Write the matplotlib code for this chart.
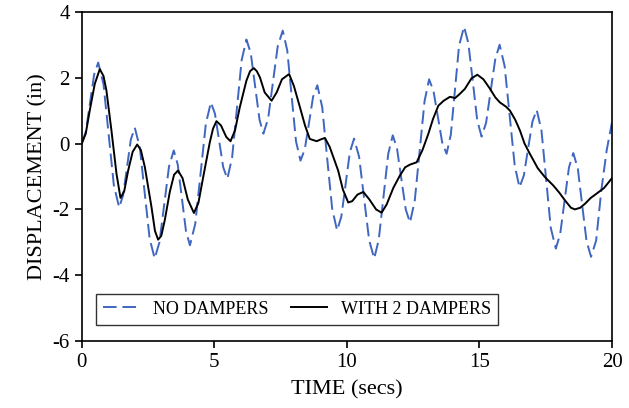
import matplotlib
matplotlib.use("Agg")
from matplotlib import pyplot as plt

# NO DAMPERS (dashed blue)
t_none = [0.0, 0.155, 0.31, 0.465, 0.62, 0.82, 1.015, 1.21, 1.41, 1.56, 1.705, 1.85,
          2.0, 2.19, 2.375, 2.56, 2.75, 2.93, 3.11, 3.29, 3.47, 3.62, 3.775, 3.93,
          4.08, 4.28, 4.48, 4.68, 4.87, 5.025, 5.18, 5.335, 5.49, 5.67, 5.85, 6.03,
          6.21, 6.375, 6.54, 6.705, 6.85, 7.03, 7.21, 7.39, 7.58, 7.75, 7.915, 8.08,
          8.25, 8.41, 8.57, 8.725, 8.885, 9.07, 9.255, 9.445, 9.63, 9.79, 9.95, 10.11,
          10.27, 10.46, 10.65, 10.84, 11.03, 11.2, 11.38, 11.56, 11.73, 11.89, 12.055, 12.22,
          12.38, 12.56, 12.745, 12.93, 13.1, 13.265, 13.43, 13.595, 13.76, 13.92, 14.075, 14.23,
          14.42, 14.58, 14.75, 14.915, 15.08, 15.25, 15.425, 15.6, 15.76, 15.95, 16.14, 16.33,
          16.51, 16.675, 16.835, 17.0, 17.16, 17.34, 17.515, 17.69, 17.88, 18.045, 18.21, 18.375,
          18.54, 18.71, 18.875, 19.04, 19.21, 19.4, 19.6, 19.8, 20.0]
y_none = [0.0, 0.37, 1.23, 2.09, 2.46, 1.8, 0.27, -1.27, -1.94, -1.57, -0.73, 0.12,
          0.48, -0.12, -1.51, -2.89, -3.49, -3.0, -1.85, -0.7, -0.21, -0.64, -1.65, -2.66,
          -3.09, -2.44, -0.92, 0.6, 1.25, 0.9, 0.09, -0.72, -1.07, -0.43, 1.05, 2.53,
          3.16, 2.74, 1.73, 0.72, 0.3, 0.76, 1.86, 2.95, 3.43, 2.83, 1.45, 0.07,
          -0.52, -0.18, 0.62, 1.42, 1.77, 1.1, -0.44, -1.98, -2.64, -2.22, -1.25, -0.27,
          0.15, -0.4, -1.67, -2.94, -3.49, -2.93, -1.62, -0.31, 0.25, -0.15, -1.08, -2.0,
          -2.4, -1.73, -0.22, 1.29, 1.95, 1.6, 0.82, 0.03, -0.31, 0.27, 1.62, 2.97,
          3.55, 3.05, 1.88, 0.71, 0.21, 0.63, 1.61, 2.58, 3.0, 2.35, 0.84, -0.67,
          -1.33, -0.97, -0.15, 0.67, 1.02, 0.39, -1.09, -2.56, -3.19, -2.75, -1.74, -0.73,
          -0.29, -0.76, -1.87, -2.97, -3.44, -2.95, -1.4, -0.2, 0.65]

# WITH 2 DAMPERS (solid black)
t_damp = [0.0, 0.15, 0.3, 0.49, 0.68, 0.82, 0.93, 1.12, 1.31, 1.46, 1.6, 1.75,
          1.92, 2.09, 2.23, 2.38, 2.63, 2.76, 2.88, 3.0, 3.13, 3.32, 3.48, 3.63,
          3.8, 4.0, 4.23, 4.4, 4.58, 4.83, 4.95, 5.08, 5.25, 5.45, 5.61, 5.78,
          5.96, 6.21, 6.35, 6.49, 6.6, 6.72, 6.9, 7.16, 7.35, 7.55, 7.82, 8.0,
          8.23, 8.42, 8.6, 8.86, 9.0, 9.17, 9.35, 9.55, 9.67, 9.85, 10.05, 10.2,
          10.4, 10.62, 10.85, 11.1, 11.31, 11.5, 11.75, 12.0, 12.2, 12.38, 12.63, 12.85,
          13.07, 13.25, 13.45, 13.65, 13.89, 14.08, 14.25, 14.45, 14.7, 14.92, 15.15, 15.4,
          15.6, 15.77, 16.0, 16.15, 16.35, 16.53, 16.7, 16.9, 17.2, 17.47, 17.78, 18.0,
          18.23, 18.45, 18.6, 18.8, 18.98, 19.2, 19.42, 19.7, 20.0]
y_damp = [0.0, 0.3, 1.0, 1.81, 2.26, 2.05, 1.61, 0.39, -0.92, -1.65, -1.45, -0.82,
          -0.25, -0.03, -0.2, -0.72, -1.93, -2.65, -2.92, -2.8, -2.33, -1.47, -0.95, -0.82,
          -1.05, -1.7, -2.11, -1.8, -1.02, 0.04, 0.45, 0.68, 0.55, 0.2, 0.07, 0.4,
          1.1, 1.91, 2.2, 2.29, 2.2, 2.01, 1.55, 1.3, 1.55, 1.95, 2.11, 1.75,
          1.1, 0.55, 0.14, 0.07, 0.12, 0.17, -0.1, -0.55, -0.82, -1.4, -1.79, -1.75,
          -1.55, -1.47, -1.7, -2.0, -2.1, -1.85, -1.35, -0.97, -0.72, -0.64, -0.57, -0.2,
          0.29, 0.75, 1.15, 1.3, 1.42, 1.38, 1.5, 1.66, 1.98, 2.09, 1.95, 1.66,
          1.4, 1.25, 1.12, 1.0, 0.72, 0.39, 0.0, -0.31, -0.75, -1.02, -1.27, -1.48,
          -1.73, -1.95, -2.0, -1.95, -1.83, -1.65, -1.52, -1.35, -1.05]

x_ticks = [0, 5, 10, 15, 20]
y_ticks = [-6, -4, -2, 0, 2, 4]

plt.rcParams['font.family'] = ['Liberation Serif', 'DejaVu Serif']
plt.rcParams['axes.unicode_minus'] = False

fig = plt.figure(figsize=(6.29, 4.08), dpi=100)
ax = fig.add_axes([0.130, 0.164, 0.843, 0.807])

ax.plot(t_none, y_none, color='#3f66c0', linewidth=1.4, dashes=(7, 3),
        label='NO DAMPERS')
ax.plot(t_damp, y_damp, color='black', linewidth=1.4, label='WITH 2 DAMPERS')

ax.set_xlim(0, 20)
ax.set_ylim(-6, 4)
ax.set_xticks(x_ticks)
ax.set_yticks(y_ticks)
ax.tick_params(direction='out', length=5, width=1.2, labelsize=15)
for s in ax.spines.values():
    s.set_linewidth(1.2)

ax.set_xlabel('TIME (secs)', fontsize=16, labelpad=6)
ax.set_ylabel('DISPLACEMENT (in)', fontsize=16, labelpad=4)

leg = ax.legend(loc='lower left', bbox_to_anchor=(0.026, 0.049), ncol=2,
                fontsize=13, frameon=True, fancybox=False, borderpad=0.4,
                handlelength=2.0, columnspacing=1.2, borderaxespad=0)
leg.get_frame().set_edgecolor('black')
leg.get_frame().set_linewidth(1.0)

fig.savefig('out.png', dpi=100)
